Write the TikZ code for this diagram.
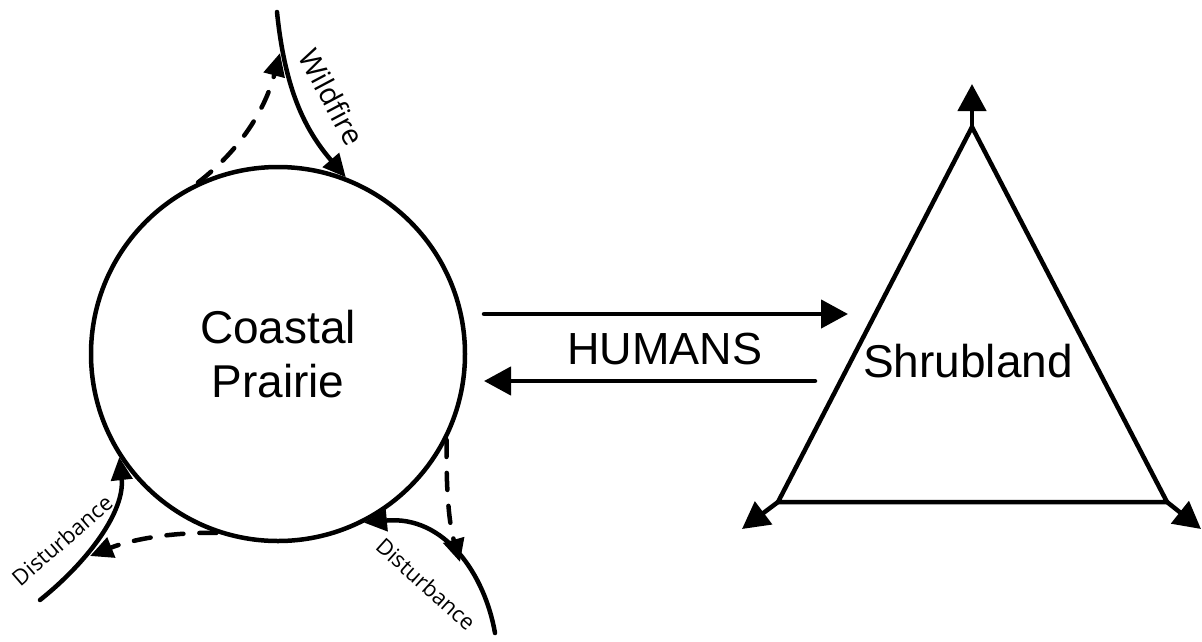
\documentclass[tikz,border=0pt]{standalone}
\usepackage{fontspec}
\setmainfont{Liberation Sans}
\newfontfamily\lblfont{Open Sans}
\usetikzlibrary{arrows.meta}

\begin{document}
\begin{tikzpicture}[x=1pt, y=-1pt, line width=4.5pt, line cap=round,
  bigtip/.style={-{Triangle[length=27pt,width=28pt]}},
  smalltip/.style={-{Triangle[length=23pt,width=21pt]}},
  dashflow/.style={dash pattern=on 17pt off 16pt},
  title/.style={font=\fontsize{46}{54}\selectfont, align=center},
  lbl/.style={font=\lblfont\fontsize{22}{26}\selectfont, inner sep=0pt}]
\useasboundingbox (0,0) rectangle (1202,641);

% the prairie state
\node[draw, circle, minimum size=374pt, inner sep=0pt, title] (prairie) at (278,354) {Coastal\\Prairie};

% the shrubland state
\coordinate (apex) at (972,127);
\coordinate (bl) at (778,502);
\coordinate (br) at (1167,502);
\draw[line join=miter] (apex) -- (bl) -- (br) -- cycle;
\coordinate (apexTip) at (972,84);
\coordinate (blTip) at (742,529);
\coordinate (brTip) at (1201,529);
\draw[bigtip] (apex) -- (apexTip);
\draw[bigtip] (bl) -- (blTip);
\draw[bigtip] (br) -- (brTip);
\node[title] (shrub) at (968,361) {Shrubland};

% human-driven transitions
\coordinate (hA1) at (484,314);
\coordinate (hA2) at (848,314);
\coordinate (hB1) at (815,381);
\coordinate (hB2) at (484,381);
\draw[bigtip] (hA1) -- (hA2);
\draw[bigtip] (hB1) -- (hB2);
\node[font=\fontsize{45}{54}\selectfont] (humans) at (665,349) {HUMANS};

% wildfire loop
\coordinate (wf0) at (277,12);
\coordinate (wfTip) at (280,53);
\draw[smalltip] (wf0) .. controls (285,90) and (305,130) .. (prairie.69);
\draw[dashflow, smalltip] (prairie.115) .. controls (240,150) and (265,110) .. (wfTip);
\node[lbl, font=\lblfont\fontsize{29}{32}\selectfont, rotate=-62] (wildlbl) at (332,97) {Wildfire};

% disturbance loop, lower left
\coordinate (dl0) at (40,600);
\coordinate (dlTip) at (90,556);
\draw[smalltip] (dl0) .. controls (90,560) and (125,510) .. (prairie.213);
\draw[dashflow, smalltip] (prairie.251) .. controls (170,532) and (130,540) .. (dlTip);
\node[lbl, rotate=41] (distL) at (62,540) {Disturbance};

% disturbance loop, lower right
\coordinate (dr0) at (495,633);
\coordinate (drTip) at (460,562);
\draw[smalltip] (dr0) .. controls (485,575) and (445,515) .. (prairie.297);
\draw[dashflow, smalltip] (prairie.333) .. controls (446,480) and (448,520) .. (drTip);
\node[lbl, rotate=-42] (distR) at (426,584) {Disturbance};
\end{tikzpicture}
\end{document}
